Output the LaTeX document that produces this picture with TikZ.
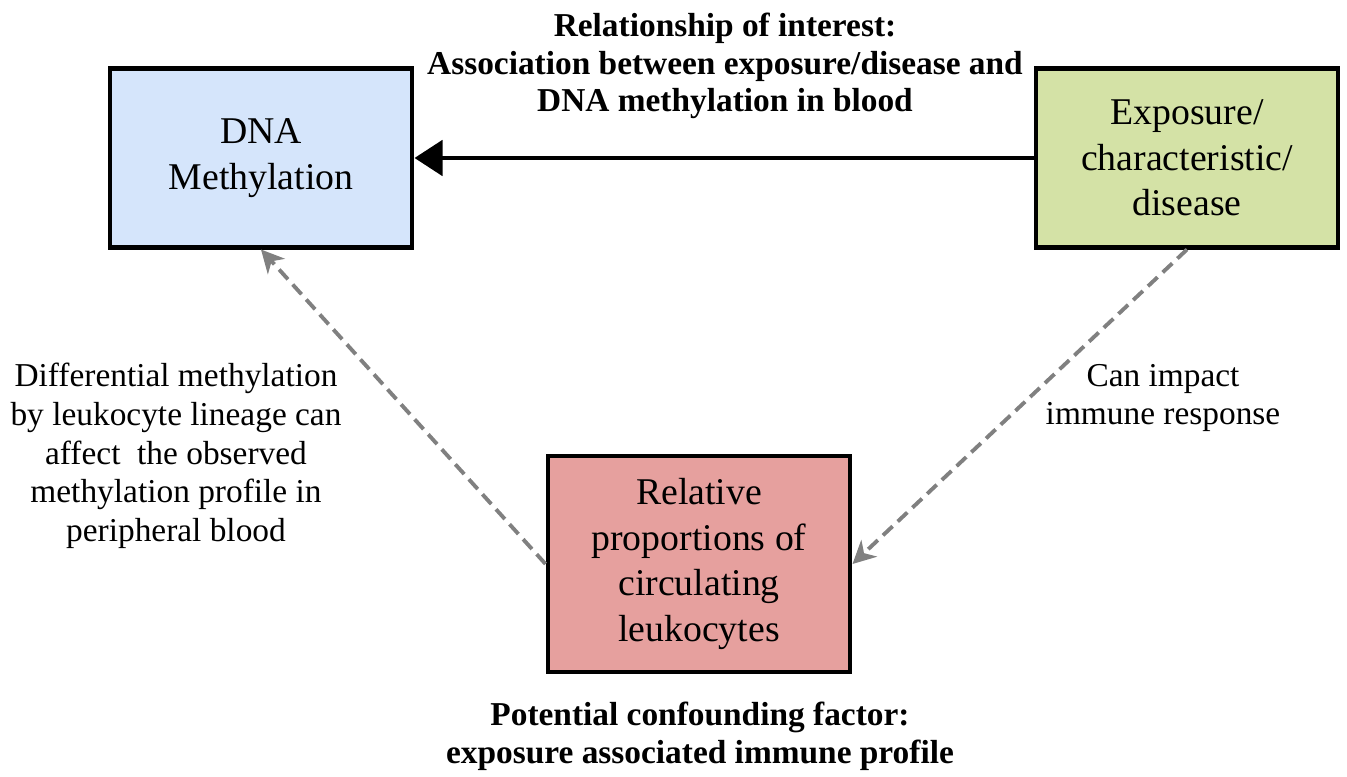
\documentclass[tikz,border=0pt]{standalone}
\usepackage{fontspec}
\setmainfont{Liberation Serif}
\usetikzlibrary{arrows.meta}

\definecolor{dnablue}{RGB}{213,229,251}
\definecolor{expgreen}{RGB}{212,226,166}
\definecolor{relpink}{RGB}{230,160,158}
\definecolor{linkgray}{RGB}{128,128,128}

\tikzset{
  box/.style={draw, rectangle, line width=2.3pt, align=center, minimum width=6.06cm, minimum height=3.58cm, font=\rmfamily\fontsize{21.5}{26}\selectfont},
  note/.style={align=center, font=\rmfamily\fontsize{19}{22}\selectfont},
  headnote/.style={align=center, font=\rmfamily\fontsize{19}{21.5}\selectfont\bfseries},
  dasharrow/.style={draw=linkgray, line width=2.2pt, dash pattern=on 7.5pt off 4pt, -{Stealth[length=13pt, width=13pt, inset=4pt]}}
}

\begin{document}
\begin{tikzpicture}[x=0.02cm, y=-0.02cm]
				\useasboundingbox (0,0) rectangle (1347,777);
				\node[box, fill=dnablue] (dna)at(261, 158) {DNA\\Methylation};
				\node[box, fill=expgreen] (exp)at(1187, 158) {Exposure/\\characteristic/\\disease};
				\node[box, fill=relpink, minimum height=4.32cm] (rel)at(699, 564) {Relative\\proportions of\\circulating\\leukocytes};
				\node[headnote] (interest)at(725, 66) {Relationship of interest:\\Association between exposure/disease and\\DNA methylation in blood};
				\node[note] (lineage)at(176, 456) {Differential methylation\\by leukocyte lineage can\\affect~ the observed\\methylation profile in\\peripheral blood};
				\node[note] (impact)at(1163, 398) {Can impact\\immune response};
				\node[headnote] (confound)at(700, 736) {Potential confounding factor:\\exposure associated immune profile};
				\draw[line width=2.8pt, -{Triangle[length=16pt, width=20pt]}] (exp) -- (dna);
				\draw[dasharrow] (rel.west) -- (dna.south);
				\draw[dasharrow] (exp.south) -- (rel.east);
			\end{tikzpicture}
\end{document}
